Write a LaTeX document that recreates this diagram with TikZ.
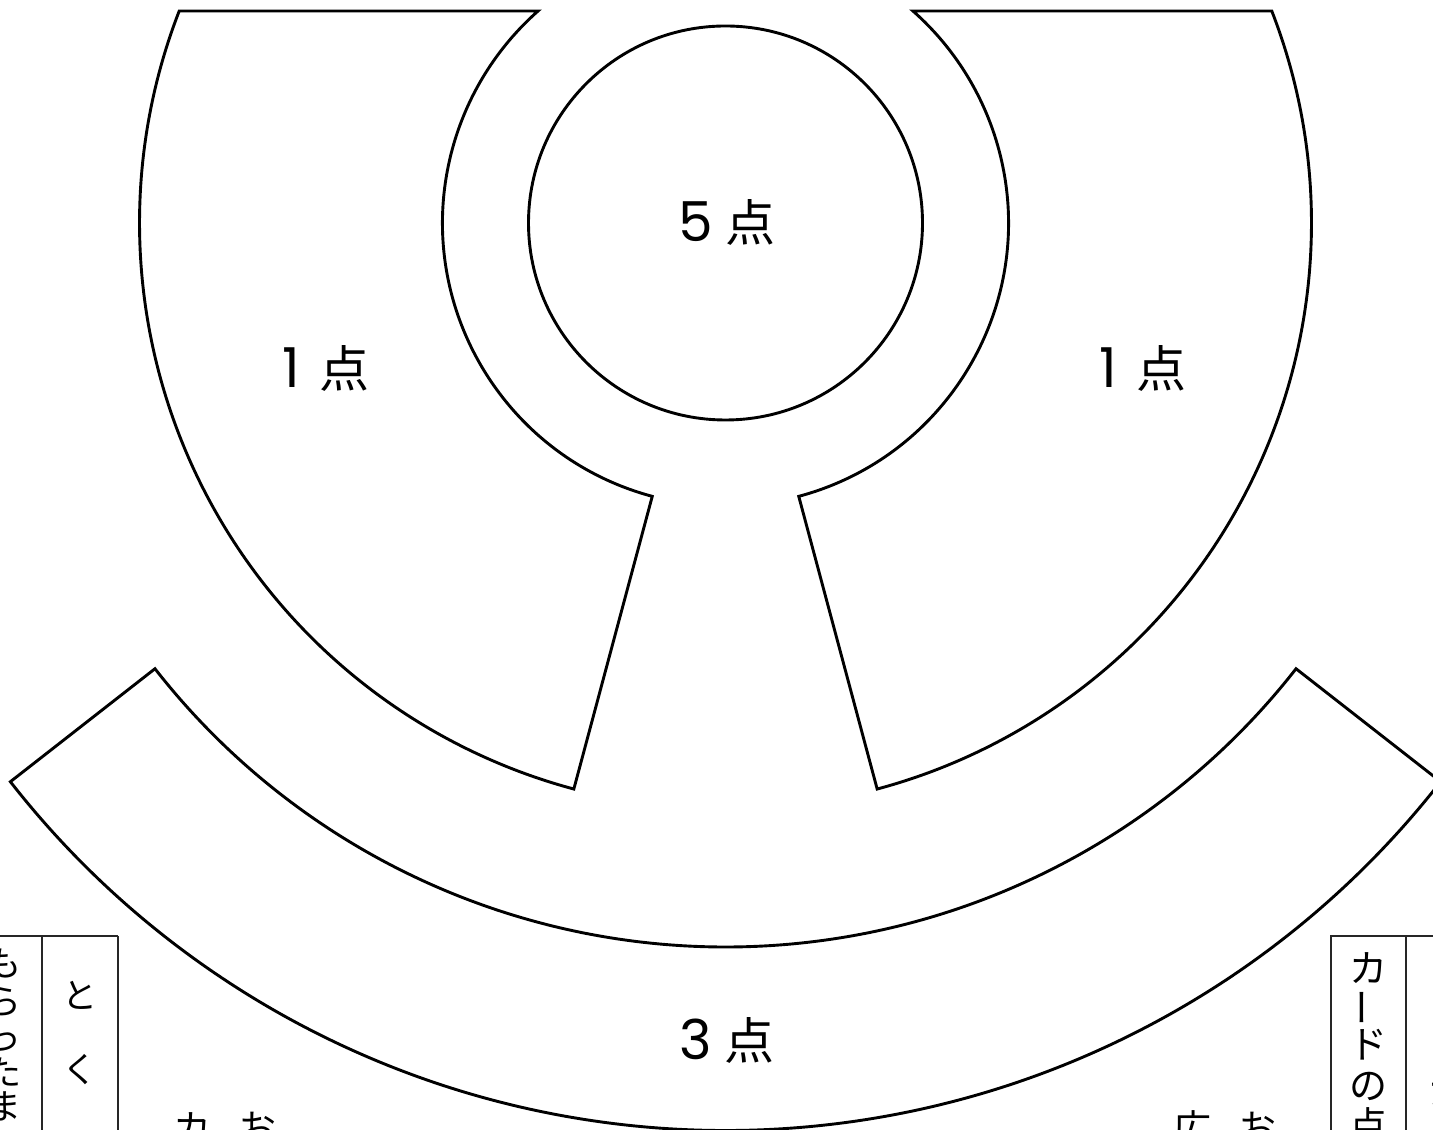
\documentclass[tikz,border=0pt]{standalone}
\usepackage{fontspec}
\newfontfamily\jp{Noto Sans CJK JP}
\newfontfamily\num{Poppins}
\begin{document}
\begin{tikzpicture}[x=1pt,y=1pt,
  region/.style={draw=black,line width=2.9pt,line join=miter},
  boxline/.style={draw=black!85,line width=1.4pt},
  score/.style={inner sep=0pt,font=\fontsize{50}{50}\selectfont},
  vch/.style={inner sep=0pt,font=\jp\fontsize{38}{38}\selectfont},
  vchs/.style={inner sep=0pt,font=\jp\fontsize{35}{35}\selectfont}]
\useasboundingbox (0,0) rectangle (1433,1130);
\clip (0,0) rectangle (1433,1130);
\coordinate (O) at (725.5,907);
% 1-point regions
\draw[region] ([shift={(O)}]158.79:586) arc[start angle=158.79,end angle=255,radius=586pt]
  -- ([shift={(O)}]255:283) arc[start angle=255,end angle=131.49,radius=283pt] -- cycle;
\draw[region] ([shift={(O)}]21.21:586) arc[start angle=21.21,end angle=-75,radius=586pt]
  -- ([shift={(O)}]-75:283) arc[start angle=-75,end angle=48.51,radius=283pt] -- cycle;
% 3-point band
\draw[region] ([shift={(O)}]218:724) arc[start angle=218,end angle=322,radius=724pt]
  -- ([shift={(O)}]322:907.5) arc[start angle=322,end angle=218,radius=907.5pt] -- cycle;
% 5-point circle
\node[circle,draw=black,line width=2.9pt,minimum size=394pt,inner sep=0pt] (five) at (O) {};
\node[score] (t5) at (727,908) {{\num\fontsize{55}{55}\selectfont 5}\hspace{0.25em}{\jp 点}};
\node[score] (t1l) at (326,762) {{\num\fontsize{55}{55}\selectfont 1}\hspace{0.4em}{\jp 点}};
\node[score] (t1r) at (1143,762) {{\num\fontsize{55}{55}\selectfont 1}\hspace{0.4em}{\jp 点}};
\node[score] (t3) at (727,90) {{\num\fontsize{55}{55}\selectfont 3}\hspace{0.25em}{\jp 点}};
% left box
\draw[boxline] (0,194) -- (118,194);
\draw[boxline] (42,194) -- (42,0);
\draw[boxline] (118,194) -- (118,0);
\foreach \c/\yy [count=\i] in {も/167,ら/128,っ/88,た/58,ま/24}
  \node[vchs] (la\i) at (4,\yy) {\c};
\foreach \c/\yy [count=\i] in {と/135,く/60}
  \node[vchs] (lb\i) at (80,\yy) {\c};
% right box
\draw[boxline] (1331,0) -- (1331,194) -- (1433,194);
\draw[boxline] (1406,194) -- (1406,0);
\node[vch] (ra1) at (1368,162) {カ};
\node[vch] (ra2) at (1368,122) {\rotatebox{90}{ー}};
\node[vch] (ra3) at (1368,85) {ド};
\node[vch] (ra4) at (1368,44) {の};
\node[vch] (ra5) at (1368,5) {点};
\node[vch] (rb1) at (1448,130) {こ};
\node[vch] (rb2) at (1448,40) {か};
% bottom texts
\node[vch] (b1) at (192,2) {カ};
\node[vch] (b2) at (257,2) {お};
\node[vch] (b3) at (1192,2) {広};
\node[vch] (b4) at (1257,2) {お};
\end{tikzpicture}
\end{document}
